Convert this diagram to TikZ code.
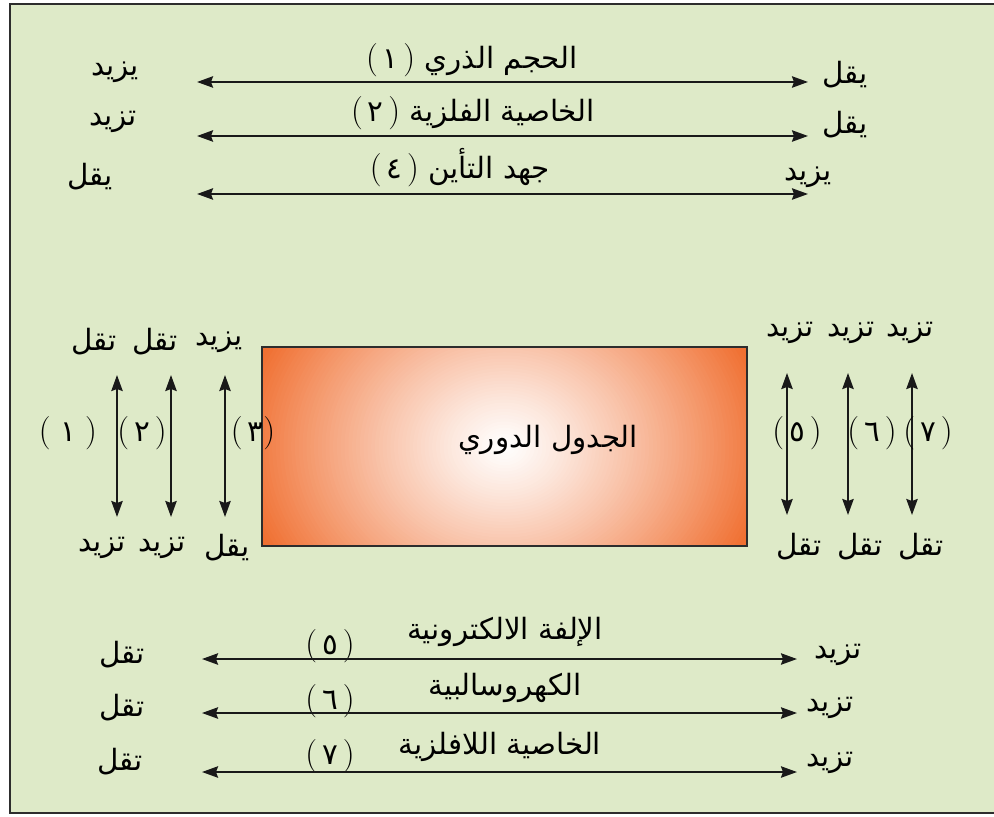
\documentclass[tikz,border=0pt]{standalone}
\usepackage{fontspec}
\usetikzlibrary{arrows.meta}
\TeXXeTstate=1
\newfontfamily\arabicfont[Script=Arabic]{DejaVu Sans}
\newcommand\artxt[1]{\beginR #1\endR}
\newcommand\lpar{{\normalfont\fontsize{25}{27}\selectfont(}}
\newcommand\rpar{{\normalfont\fontsize{25}{27}\selectfont)}}
\definecolor{bgreen}{RGB}{222,234,200}
\definecolor{framec}{RGB}{45,45,45}
\definecolor{orng}{RGB}{240,112,50}
\tikzset{
  lbl/.style={font=\arabicfont\fontsize{22}{25}\selectfont, inner sep=0pt, text=black},
  arr/.style={{Stealth[length=12pt,width=8.5pt,inset=1.5pt]}-{Stealth[length=12pt,width=8.5pt,inset=1.5pt]}, line width=1.6pt, draw=black!90},
}
\begin{document}
\begin{tikzpicture}[x=0.75pt,y=-0.75pt]
\useasboundingbox (0,0) rectangle (994,816);
\fill[white] (0,0) rectangle (994,816);
\draw[fill=bgreen, draw=framec, line width=2.2pt] (10,4) rectangle (1000,813);

% ---------- top group ----------
\node[lbl] (t1) at (472,60) {\lpar\,١\,\rpar\ \artxt{الحجم الذري}};
\node[lbl] (t2) at (473,113) {\lpar\,٢\,\rpar\ \artxt{الخاصية الفلزية}};
\node[lbl] (t3) at (460,168) {\lpar\,٤\,\rpar\ \artxt{جهد التأين}};
\node[lbl] (tl1) at (115,72) {\artxt{يزيد}};
\node[lbl] (tl2) at (113,122) {\artxt{تزيد}};
\node[lbl] (tl3) at (90,177) {\artxt{يقل}};
\node[lbl] (tr1) at (845,75) {\artxt{يقل}};
\node[lbl] (tr2) at (845,125) {\artxt{يقل}};
\node[lbl] (tr3) at (808,177) {\artxt{يزيد}};
\coordinate (ta1) at (197,82);  \coordinate (tb1) at (808,82);
\coordinate (ta2) at (197,136); \coordinate (tb2) at (808,136);
\coordinate (ta3) at (197,194); \coordinate (tb3) at (808,194);
\draw[arr] (ta1) -- (tb1);
\draw[arr] (ta2) -- (tb2);
\draw[arr] (ta3) -- (tb3);

% ---------- central box (radial glow built from nested ellipses) ----------
\node[draw=framec, fill=orng, line width=1.6pt, minimum width=363.75pt, minimum height=149.25pt, inner sep=0pt,
  path picture={
    \foreach \k in {1,...,70}{
      \pgfmathsetmacro\rr{1-\k/70}
      \pgfmathsetmacro\pc{100*(\rr^1.15)}
      \fill[orng!\pc!white] (path picture bounding box.center) ellipse [x radius=\rr*200pt, y radius=\rr*165pt];
    }}]
  (box) at (504.5,446.5) {};
\node[lbl] (boxlbl) at (548,440) {\artxt{الجدول الدوري}};

% ---------- left vertical arrows ----------
\coordinate (la1) at (117,375); \coordinate (lb1) at (117,517);
\coordinate (la2) at (171,375); \coordinate (lb2) at (171,517);
\coordinate (la3) at (225,375); \coordinate (lb3) at (225,517);
\draw[arr] (la1) -- (lb1);
\draw[arr] (la2) -- (lb2);
\draw[arr] (la3) -- (lb3);
\node[lbl] (ln1) at (68,433) {\lpar\ ١\ \rpar};
\node[lbl] (ln2) at (142,433) {\lpar\,٢\,\rpar};
\node[lbl] (ln3) at (253,433) {\lpar\,٣\rpar};
\node[lbl] (lt1) at (94,342) {\artxt{تقل}};
\node[lbl] (lt2) at (155,342) {\artxt{تقل}};
\node[lbl] (lt3) at (219,342) {\artxt{يزيد}};
\node[lbl] (lw1) at (102,548) {\artxt{تزيد}};
\node[lbl] (lw2) at (162,548) {\artxt{تزيد}};
\node[lbl] (lw3) at (227,548) {\artxt{يقل}};

% ---------- right vertical arrows ----------
\coordinate (ra1) at (787,373); \coordinate (rb1) at (787,515);
\coordinate (ra2) at (848,373); \coordinate (rb2) at (848,515);
\coordinate (ra3) at (912,373); \coordinate (rb3) at (912,515);
\draw[arr] (ra1) -- (rb1);
\draw[arr] (ra2) -- (rb2);
\draw[arr] (ra3) -- (rb3);
\node[lbl] (rn1) at (797,433) {\lpar\,٥\,\rpar};
\node[lbl] (rn2) at (872,433) {\lpar\,٦\,\rpar};
\node[lbl] (rn3) at (928,433) {\lpar\,٧\,\rpar};
\node[lbl] (rt1) at (790,333) {\artxt{تزيد}};
\node[lbl] (rt2) at (851,333) {\artxt{تزيد}};
\node[lbl] (rt3) at (910,333) {\artxt{تزيد}};
\node[lbl] (rw1) at (799,547) {\artxt{تقل}};
\node[lbl] (rw2) at (860,547) {\artxt{تقل}};
\node[lbl] (rw3) at (921,547) {\artxt{تقل}};

% ---------- bottom group ----------
\node[lbl] (b1) at (505,632) {\artxt{الإلفة الالكترونية}};
\node[lbl] (b2) at (505,688) {\artxt{الكهروسالبية}};
\node[lbl] (b3) at (500,747) {\artxt{الخاصية اللافلزية}};
\node[lbl] (bn1) at (330,646) {\lpar\,٥\,\rpar};
\node[lbl] (bn2) at (330,701) {\lpar\,٦\,\rpar};
\node[lbl] (bn3) at (330,756) {\lpar\,٧\,\rpar};
\node[lbl] (bl1) at (122,655) {\artxt{تقل}};
\node[lbl] (bl2) at (122,708) {\artxt{تقل}};
\node[lbl] (bl3) at (120,762) {\artxt{تقل}};
\node[lbl] (br1) at (838,655) {\artxt{تزيد}};
\node[lbl] (br2) at (830,708) {\artxt{تزيد}};
\node[lbl] (br3) at (830,763) {\artxt{تزيد}};
\coordinate (ba1) at (202,659); \coordinate (bb1) at (797,659);
\coordinate (ba2) at (202,713); \coordinate (bb2) at (797,713);
\coordinate (ba3) at (202,772); \coordinate (bb3) at (797,772);
\draw[arr] (ba1) -- (bb1);
\draw[arr] (ba2) -- (bb2);
\draw[arr] (ba3) -- (bb3);
\end{tikzpicture}
\end{document}
